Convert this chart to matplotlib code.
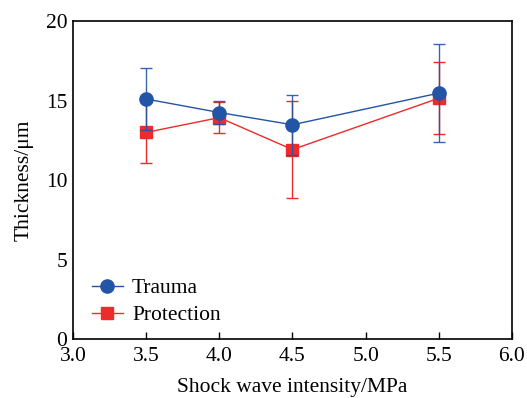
import matplotlib
matplotlib.use("Agg")
import matplotlib.pyplot as plt

intensity = [3.5, 4.0, 4.5, 5.5]
trauma = [15.1, 14.25, 13.48, 15.47]
trauma_err = [1.95, 0.75, 1.9, 3.1]
protection = [13.0, 13.93, 11.92, 15.15]
protection_err = [1.93, 0.97, 3.03, 2.25]

plt.rcParams['font.family'] = ['Liberation Serif', 'DejaVu Serif']

fig = plt.figure(figsize=(5.27, 3.98), dpi=100)
ax = fig.add_axes([0.1385, 0.148, 0.833, 0.799])

blue = '#2255a5'
red = '#ee2a2a'

ax.errorbar(intensity, protection, yerr=protection_err, fmt='none', ecolor=red,
            elinewidth=1.0, capsize=4.5, capthick=1.0, zorder=2)
lp, = ax.plot(intensity, protection, color=red, marker='s', markersize=9, lw=1.0,
              label='Protection', zorder=2.5)
ax.errorbar(intensity, trauma, yerr=trauma_err, fmt='none', ecolor=blue,
            elinewidth=1.0, capsize=4.5, capthick=1.0, zorder=3, alpha=0.9)
lt, = ax.plot(intensity, trauma, color=blue, marker='o', markersize=9.5, lw=1.0,
              label='Trauma', zorder=3.5)

ax.set_xlim(3.0, 6.0)
ax.set_ylim(0, 20)
ax.set_xticks([3.0, 3.5, 4.0, 4.5, 5.0, 5.5, 6.0])
ax.set_xticklabels(['3.0', '3.5', '4.0', '4.5', '5.0', '5.5', '6.0'])
ax.set_yticks([0, 5, 10, 15, 20])
ax.tick_params(axis='x', direction='in', labelsize=15.5, length=5, width=1, pad=6)
ax.tick_params(axis='y', direction='in', labelsize=15.5, length=0, pad=4)
for s in ax.spines.values():
    s.set_linewidth(1.2)
ax.set_xlabel('Shock wave intensity/MPa', fontsize=15.5, labelpad=8)
ax.set_ylabel('Thickness/μm', fontsize=15.5, labelpad=9)

ax.legend([lt, lp], ['Trauma', 'Protection'], loc='lower left', frameon=False,
          fontsize=15.5, bbox_to_anchor=(0.043, 0.043), handlelength=1.45,
          handletextpad=0.42, labelspacing=0.32, borderaxespad=0, borderpad=0)

fig.savefig('out.png', dpi=100)
